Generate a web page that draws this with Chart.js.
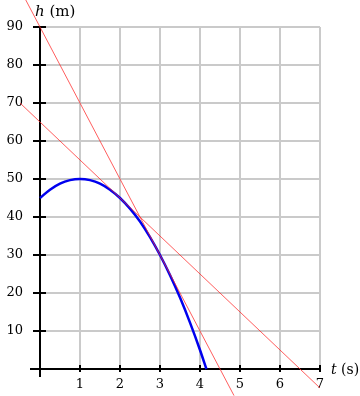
<!DOCTYPE html>
<html>
<head>
<meta charset="utf-8">
<script src="https://cdn.jsdelivr.net/npm/chart.js@4"></script>
<style>
  html, body { margin: 0; padding: 0; background: #fff; }
  #wrap { width: 360px; height: 396px; }
</style>
</head>
<body>
<div id="wrap"><canvas id="c" width="360" height="396"></canvas></div>
<script>
// height of the ball h(t)
const curveT = [0, 0.25, 0.5, 0.75, 1, 1.25, 1.5, 1.75, 2, 2.25, 2.5, 2.75, 3, 3.25, 3.5, 3.75, 4, 4.16];
const curveH = [45, 47.2, 48.8, 49.7, 50, 49.7, 48.8, 47.2, 45, 42.2, 38.8, 34.7, 30, 24.7, 18.8, 12.2, 5, 0];

// the two red straight lines (end points)
const steepT = [-0.45, 4.85];
const steepH = [99, -7];
const flatT = [-0.5, 7];
const flatH = [70, -5];

const xTicks = [1, 2, 3, 4, 5, 6, 7];
const yTicks = [10, 20, 30, 40, 50, 60, 70, 80, 90];

const FONT = "DejaVu Serif";
const GRID = "#cacaca";

function pts(xs, ys) {
  return xs.map((x, i) => ({ x, y: ys[i] }));
}

// black axes, tick marks and axis titles
const axesPlugin = {
  id: "axes",
  beforeDatasetsDraw(chart) {
    const { ctx } = chart;
    const xs = chart.scales.x, ys = chart.scales.y;
    const x0 = xs.getPixelForValue(0), y0 = ys.getPixelForValue(0);
    ctx.save();
    ctx.strokeStyle = "#000";
    ctx.lineWidth = 2;
    ctx.beginPath();
    ctx.moveTo(x0, ys.getPixelForValue(90));
    ctx.lineTo(x0, y0 + 8);
    ctx.moveTo(x0 - 10, y0);
    ctx.lineTo(xs.getPixelForValue(7), y0);
    yTicks.forEach((v) => {
      const py = ys.getPixelForValue(v);
      ctx.moveTo(x0 - 7, py);
      ctx.lineTo(x0 + 6, py);
    });
    xTicks.forEach((v) => {
      const px = xs.getPixelForValue(v);
      ctx.moveTo(px, y0 - 4);
      ctx.lineTo(px, y0 + 3);
    });
    ctx.stroke();
    ctx.restore();
  },
  afterDraw(chart) {
    const { ctx } = chart;
    ctx.save();
    ctx.fillStyle = "#000";
    ctx.textBaseline = "middle";
    ctx.font = "italic 15px " + FONT;
    ctx.fillText("h", 35, 12);
    let w = ctx.measureText("h").width;
    ctx.font = "15px " + FONT;
    ctx.fillText(" (m)", 35 + w, 12);
    ctx.font = "italic 14px " + FONT;
    ctx.fillText("t", 331, 370);
    w = ctx.measureText("t").width;
    ctx.font = "14px " + FONT;
    ctx.fillText(" (s)", 331 + w, 370);
    ctx.restore();
  },
};

new Chart(document.getElementById("c"), {
  type: "scatter",
  data: {
    datasets: [
      {
        data: pts(steepT, steepH),
        showLine: true,
        borderColor: "rgba(255,40,40,0.75)",
        borderWidth: 1,
        pointRadius: 0,
        clip: false,
      },
      {
        data: pts(flatT, flatH),
        showLine: true,
        borderColor: "rgba(255,40,40,0.75)",
        borderWidth: 1,
        pointRadius: 0,
        clip: false,
      },
      {
        data: pts(curveT, curveH),
        showLine: true,
        borderColor: "#0000ee",
        borderWidth: 2.5,
        pointRadius: 0,
        cubicInterpolationMode: "monotone",
        clip: false,
      },
    ],
  },
  options: {
    responsive: false,
    animation: false,
    events: [],
    layout: { padding: { top: 27, right: 40, left: 0, bottom: 0 } },
    plugins: { legend: { display: false }, tooltip: { enabled: false } },
    scales: {
      x: {
        type: "linear",
        min: 0,
        max: 7,
        afterFit: (s) => { s.height = 27; },
        afterBuildTicks: (s) => { s.ticks = [0].concat(xTicks).map((v) => ({ value: v })); },
        grid: { color: GRID, lineWidth: 2, drawTicks: false },
        border: { display: false },
        ticks: {
          padding: 8,
          color: "#000",
          font: { family: FONT, size: 13 },
          callback: (v) => (v === 0 ? "" : String(v)),
        },
      },
      y: {
        type: "linear",
        min: 0,
        max: 90,
        afterFit: (s) => { s.width = 40; },
        afterBuildTicks: (s) => { s.ticks = [0].concat(yTicks).map((v) => ({ value: v })); },
        grid: { color: GRID, lineWidth: 2, drawTicks: false },
        border: { display: false },
        ticks: {
          padding: 17,
          color: "#000",
          font: { family: FONT, size: 13 },
          callback: (v) => (v === 0 ? "" : String(v)),
        },
      },
    },
  },
  plugins: [axesPlugin],
});
</script>
</body>
</html>
